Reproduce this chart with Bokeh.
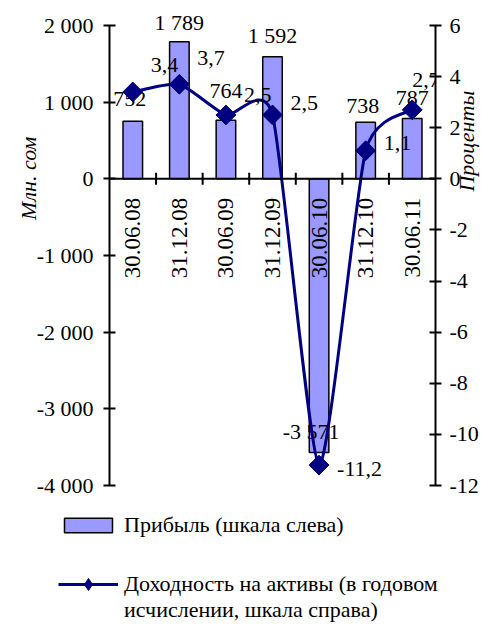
import math

from bokeh.core.properties import value
from bokeh.embed import file_html
from bokeh.layouts import column
from bokeh.models import (ColumnDataSource, FixedTicker, Legend, LegendItem,
                          LinearAxis, Range1d, Span)
from bokeh.plotting import figure
from bokeh.resources import INLINE

# ---- data -----------------------------------------------------------------
categories = ["30.06.08", "31.12.08", "30.06.09", "31.12.09",
              "30.06.10", "31.12.10", "30.06.11"]
profit = [752, 1789, 764, 1592, -3571, 738, 787]        # млн сом
roa = [3.4, 3.7, 2.5, 2.5, -11.2, 1.1, 2.7]             # %, годовых

left_ticks = [-4000, -3000, -2000, -1000, 0, 1000, 2000]
left_tick_labels = ["-4 000", "-3 000", "-2 000", "-1 000", "0", "1 000", "2 000"]
right_ticks = [-12, -10, -8, -6, -4, -2, 0, 2, 4, 6]
right_tick_labels = ["-12", "-10", "-8", "-6", "-4", "-2", "0", "2", "4", "6"]

left_title, right_title = "Млн. сом", "Проценты"
bar_name = "Прибыль (шкала слева)"
line_name = "Доходность на активы (в годовом\nисчислении, шкала справа)"

# ---- layout / style -------------------------------------------------------
W = 494
CHART_H, LEGEND_H = 500, 124
FRAME_LEFT, FRAME_RIGHT = 103, 441
AXIS_TOP, AXIS_BOTTOM = 25, 485          # pixel rows of the top / bottom ticks
FONT = "Liberation Serif"
FS = "22px"
BAR_FILL = "#9999FF"
LINE_COLOR = "#000080"

# the frame starts at the top of the canvas so that labels above the
# highest bar are not clipped; the axes are bounded to their tick ranges
l_min, l_max = left_ticks[0], left_ticks[-1]
r_min, r_max = right_ticks[0], right_ticks[-1]
span_px = AXIS_BOTTOM - AXIS_TOP
left_end = l_max + AXIS_TOP * (l_max - l_min) / span_px
right_end = r_max + AXIS_TOP * (r_max - r_min) / span_px

n = len(categories)
xs = [i + 0.5 for i in range(n)]

p = figure(width=W, height=CHART_H, output_backend="svg", toolbar_location=None,
           x_range=Range1d(0, n), y_range=Range1d(l_min, left_end),
           x_axis_type=None, y_axis_type=None, frame_align=False,
           min_border_left=FRAME_LEFT, min_border_right=W - FRAME_RIGHT,
           min_border_top=0, min_border_bottom=CHART_H - AXIS_BOTTOM,
           outline_line_color=None, background_fill_color="white",
           border_fill_color="white")
p.grid.visible = False
p.extra_y_ranges = {"pct": Range1d(r_min, right_end)}


def style_axis(ax, standoff):
    ax.axis_line_width = 2
    ax.axis_line_color = "black"
    ax.major_tick_line_width = 2
    ax.major_tick_in = 6
    ax.major_tick_out = 6
    ax.minor_tick_line_color = None
    ax.major_label_text_font = FONT
    ax.major_label_text_font_size = FS
    ax.major_label_text_color = "black"
    ax.major_label_standoff = standoff


def title_axis(text, at, standoff, **kw):
    # a bare axis whose single label is the rotated, italic title anchored at `at`
    return LinearAxis(ticker=FixedTicker(ticks=[at]), major_label_overrides={at: text},
                      major_label_orientation=math.pi / 2, axis_line_color=None,
                      major_tick_line_color=None, minor_tick_line_color=None,
                      major_tick_in=0, major_tick_out=0, major_label_standoff=standoff,
                      major_label_text_font=FONT, major_label_text_font_size=FS,
                      major_label_text_font_style="italic",
                      major_label_text_color="black", **kw)


left_axis = LinearAxis(ticker=FixedTicker(ticks=left_ticks), bounds=(l_min, l_max),
                       major_label_overrides=dict(zip(left_ticks, left_tick_labels)))
style_axis(left_axis, 10)
p.add_layout(left_axis, "left")
p.add_layout(title_axis(left_title, 550, 5), "left")

right_axis = LinearAxis(y_range_name="pct", ticker=FixedTicker(ticks=right_ticks),
                        bounds=(r_min, r_max),
                        major_label_overrides=dict(zip(right_ticks, right_tick_labels)))
style_axis(right_axis, 8)
p.add_layout(right_axis, "right")
p.add_layout(title_axis(right_title, -0.5, -15, y_range_name="pct"), "right")

# ---- profit bars ------------------------------------------------------------
bar_style = dict(fill_color=BAR_FILL, line_color="black", line_width=1.5)
bar_src = ColumnDataSource(dict(
    x=xs, top=profit,
    label=[f"{v:,}".replace(",", " ") for v in profit],
    dx=[-3, 0, 0, 0, -8, -3, 0],
    dy=[-22, -19, -29, -21, -21, -16, -20],
))
p.vbar(x="x", top="top", bottom=0, width=0.42, source=bar_src, **bar_style)

# category axis through zero
p.add_layout(Span(location=0, dimension="width", line_color="black", line_width=2))
p.scatter(x=list(range(1, n)), y=[0] * (n - 1), marker="dash", angle=math.pi / 2,
          size=12, line_color="black", line_width=2)

p.text(x="x", y="top", text="label", source=bar_src, x_offset="dx", y_offset="dy",
       text_align="center", text_baseline="alphabetic",
       text_font=value(FONT), text_font_size=FS, text_color="black")

p.text(x=xs, y=[0] * n, text=categories, angle=math.pi / 2, y_offset=19,
       text_align="right", text_baseline="middle",
       text_font=value(FONT), text_font_size="23px", text_color="black")

# ---- return on assets: smoothed curve through the points --------------------
line_style = dict(line_color=LINE_COLOR, line_width=3)
k = 0.1
seg = dict(x0=[], y0=[], x1=[], y1=[], cx0=[], cy0=[], cx1=[], cy1=[])
for i in range(n - 1):
    a, b = i - 1 if i > 0 else i, i + 2 if i + 2 < n else i + 1
    seg["x0"].append(xs[i]); seg["y0"].append(roa[i])
    seg["x1"].append(xs[i + 1]); seg["y1"].append(roa[i + 1])
    seg["cx0"].append(xs[i] + k * (xs[i + 1] - xs[a]))
    seg["cy0"].append(roa[i] + k * (roa[i + 1] - roa[a]))
    seg["cx1"].append(xs[i + 1] - k * (xs[b] - xs[i]))
    seg["cy1"].append(roa[i + 1] - k * (roa[b] - roa[i]))
p.bezier(source=ColumnDataSource(seg), y_range_name="pct", **line_style)

roa_src = ColumnDataSource(dict(
    x=xs, y=roa,
    label=[f"{v:.1f}".replace(".", ",") for v in roa],
    dx=[18, 18, 18, 18, 18, 18, 0],
    dy=[-27, -26, -20, -12, 4, -8, -30],
))
p.scatter(x="x", y="y", source=roa_src, y_range_name="pct", marker="square",
          angle=math.pi / 4, size=14, fill_color=LINE_COLOR, line_color=LINE_COLOR)
p.text(x="x", y="y", text="label", source=roa_src, y_range_name="pct",
       x_offset="dx", y_offset="dy", text_align="left", text_baseline="alphabetic",
       text_font=value(FONT), text_font_size=FS, text_color="black")

# ---- legend panel -------------------------------------------------------------
lp = figure(width=W, height=LEGEND_H, output_backend="svg", toolbar_location=None,
            x_range=Range1d(0, n), y_range=Range1d(0, 1),
            x_axis_type=None, y_axis_type=None, min_border=0, frame_align=False,
            outline_line_color=None, background_fill_color="white",
            border_fill_color="white")
lp.grid.visible = False
# hidden copies of the series that only lend their styling to the legend keys
key_bar = lp.vbar(x=xs, top=profit, width=0.42, visible=False, **bar_style)
key_line = lp.line(x=xs, y=roa, visible=False, **line_style)
key_mark = lp.scatter(x=xs, y=roa, marker="diamond", size=14, visible=False,
                      fill_color=LINE_COLOR, line_color=LINE_COLOR)

legend_style = dict(orientation="vertical", border_line_color=None,
                    background_fill_alpha=0, inactive_fill_alpha=0, padding=0,
                    margin=0, spacing=0, glyph_width=60, label_standoff=6,
                    label_text_font=FONT, label_text_font_size=FS,
                    label_text_line_height=1.05, label_text_color="black")
lp.add_layout(Legend(items=[LegendItem(label=bar_name, renderers=[key_bar])],
                     location=(58, 86), glyph_height=18, **legend_style))
lp.add_layout(Legend(items=[LegendItem(label=" \n" + line_name,
                                       renderers=[key_line, key_mark])],
                     location=(58, 1), glyph_height=30, **legend_style))

open("out.html", "w").write(file_html(column(p, lp, spacing=0), INLINE))
